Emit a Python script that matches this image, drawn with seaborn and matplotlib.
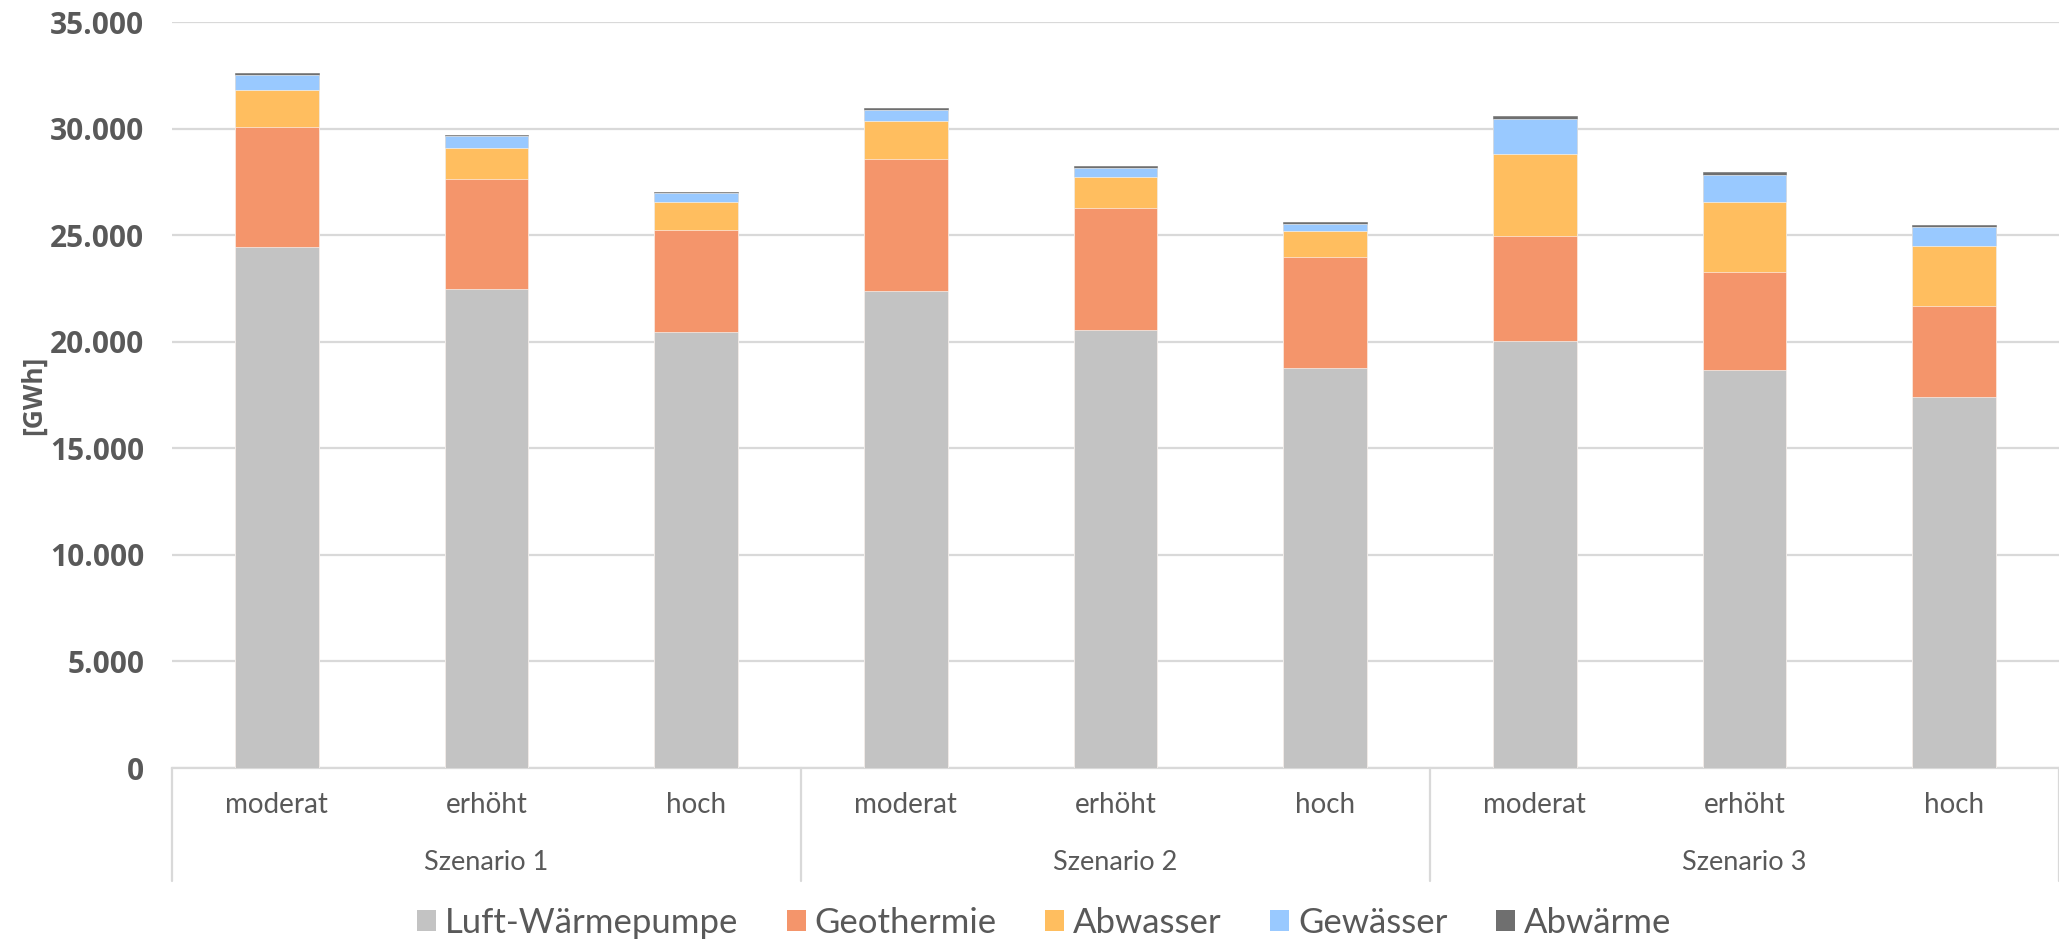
import matplotlib
matplotlib.use("Agg")
import matplotlib.pyplot as plt
import numpy as np
import pandas as pd
import seaborn as sns
from matplotlib.patches import Patch
from matplotlib.ticker import FuncFormatter, MultipleLocator
from matplotlib.transforms import blended_transform_factory

# --- data -----------------------------------------------------------------
scenarios = ["Szenario 1", "Szenario 2", "Szenario 3"]
levels = ["moderat", "erhöht", "hoch"]

luft = [24430, 22480, 20475, 22385, 20570, 18770, 20020, 18690, 17395]
geothermie = [5650, 5150, 4785, 6210, 5695, 5225, 4930, 4570, 4300]
abwasser = [1720, 1480, 1285, 1750, 1485, 1190, 3850, 3315, 2785]
gewaesser = [720, 530, 440, 515, 420, 360, 1670, 1265, 905]
abwaerme = [80, 80, 60, 95, 80, 60, 110, 110, 80]

series_names = ["Luft-Wärmepumpe", "Geothermie", "Abwasser", "Gewässer", "Abwärme"]
series_values = [luft, geothermie, abwasser, gewaesser, abwaerme]
colors = ["#C3C3C3", "#F4956B", "#FFBE5F", "#99C9FF", "#6F6F6F"]

# --- table ----------------------------------------------------------------
slots = [f"{s}|{l}" for s in scenarios for l in levels]
df = pd.DataFrame({"slot": slots})
cum = np.zeros(len(slots))
for name, vals in zip(series_names, series_values):
    cum = cum + np.asarray(vals, dtype=float)
    df[name] = cum.copy()

# --- style ----------------------------------------------------------------
sns.set_theme(style="white")
plt.rcParams["font.family"] = ["Lato", "DejaVu Sans"]
bold_family = ["Open Sans", "DejaVu Sans"]
text_color = "#595959"
grid_color = "#D9D9D9"

fig = plt.figure(figsize=(20.59, 9.42), dpi=100)
ax = fig.add_axes([0.0835, 0.1847, 0.9165, 0.7919])

# stacked bars: draw cumulative totals from the top layer downwards
top_name = series_names[-1]
for name, color in reversed(list(zip(series_names, colors))):
    edge = color if name == top_name else "white"
    sns.barplot(data=df, x="slot", y=name, order=slots, color=color,
                saturation=1, width=0.4, errorbar=None,
                edgecolor=edge, linewidth=0.4, ax=ax, zorder=3)

ax.set_xlim(-0.5, len(slots) - 0.5)
ax.set_ylim(0, 35000)
ax.yaxis.set_major_locator(MultipleLocator(5000))
ax.yaxis.set_major_formatter(
    FuncFormatter(lambda v, p: f"{int(v):,}".replace(",", ".")))
ax.grid(axis="y", color=grid_color, linewidth=1.6, zorder=0)
ax.set_axisbelow(True)

for side in ["top", "right", "left"]:
    ax.spines[side].set_visible(False)
ax.spines["bottom"].set_color(grid_color)
ax.spines["bottom"].set_linewidth(1.6)

ax.tick_params(axis="y", length=0, pad=20, labelsize=21.5, labelcolor=text_color)
for lab in ax.get_yticklabels():
    lab.set_fontfamily(bold_family)
    lab.set_fontweight("bold")

ax.set_xticks(range(len(slots)))
ax.set_xticklabels([s.split("|")[1] for s in slots])
ax.tick_params(axis="x", length=0, pad=17, labelsize=20, labelcolor=text_color)
ax.set_xlabel("")

ax.set_ylabel("[GWh]")
ylab = ax.yaxis.label
ylab.set_fontfamily(bold_family)
ylab.set_fontsize(19)
ylab.set_fontweight("bold")
ylab.set_color(text_color)
ax.yaxis.set_label_coords(-0.066, 0.5)

# group level of the category axis
trans = blended_transform_factory(ax.transData, ax.transAxes)
for i, s in enumerate(scenarios):
    ax.text(3 * i + 1, -0.1273, s, transform=trans, ha="center", va="center",
            fontsize=19.5, color=text_color)
for xb in [-0.5, 2.5, 5.5, 8.5]:
    ax.plot([xb, xb], [0, -0.1515], transform=trans, color=grid_color,
            linewidth=1.6, clip_on=False)

# legend
handles = [Patch(facecolor=c, edgecolor="none") for c in colors]
fig.legend(handles, series_names, loc="center", bbox_to_anchor=(0.507, 0.02),
           ncol=5, frameon=False, fontsize=25, handlelength=0.55,
           handleheight=0.55, handletextpad=0.25, columnspacing=1.4,
           labelcolor=text_color)

fig.savefig("out.png", dpi=100)
